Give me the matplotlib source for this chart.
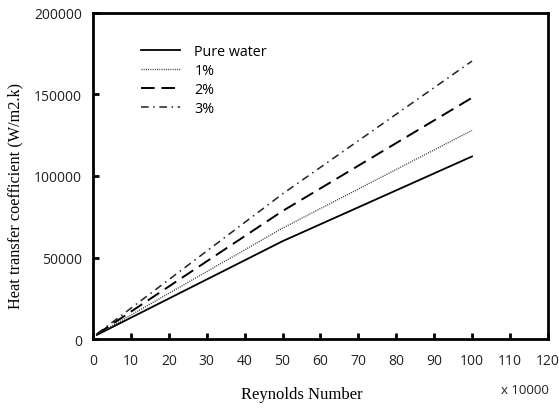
import matplotlib
matplotlib.use("Agg")
import matplotlib.pyplot as plt

reynolds = [1, 50, 100]
pure_water = [2500, 60000, 112000]
pct1 = [2700, 68000, 128000]
pct2 = [2900, 78500, 148000]
pct3 = [3100, 89000, 170500]
labels = ["Pure water", "1%", "2%", "3%"]
xticks = list(range(0, 121, 10))
yticks = [0, 50000, 100000, 150000, 200000]

fig = plt.figure(figsize=(5.59, 4.10), dpi=100)
ax = fig.add_axes([0.1664, 0.1707, 0.8136, 0.7952])

ax.plot(reynolds, pure_water, color="black", lw=1.3, ls="-", label=labels[0])
ax.plot(reynolds, pct1, color="#333333", lw=1.0, ls=(0, (0.7, 0.9)), label=labels[1])
ax.plot(reynolds, pct2, color="black", lw=1.4, ls=(0, (7, 3.5)), label=labels[2])
ax.plot(reynolds, pct3, color="#222222", lw=1.1, ls=(0, (5, 3, 1, 3)), label=labels[3])

ax.set_xlim(0, 120)
ax.set_ylim(0, 200000)
ax.set_xticks(xticks)
ax.set_yticks(yticks)
ax.set_xticklabels([str(t) for t in xticks], fontfamily="Open Sans", fontsize=10, color="#222222")
ax.set_yticklabels([str(t) for t in yticks], fontfamily="Open Sans", fontsize=10, color="#222222")
ax.tick_params(axis="x", direction="in", length=4, width=2, pad=10)
ax.tick_params(axis="y", direction="in", length=4, width=2, pad=8)
for s in ax.spines.values():
    s.set_linewidth(2)

ax.set_xlabel("Reynolds Number", fontfamily="Liberation Serif", fontsize=12)
ax.xaxis.set_label_coords(0.46, -0.145)
ax.set_ylabel("Heat transfer coefficient (W/m2.k)", fontfamily="Liberation Serif", fontsize=11.7)
ax.yaxis.set_label_coords(-0.152, 0.442)
fig.text(0.939, 0.048, "x 10000", fontfamily="Open Sans", fontsize=9.5, ha="center", va="center", color="#222222")

leg = ax.legend(loc="upper left", bbox_to_anchor=(0.078, 0.945), frameon=False,
                prop={"family": "Open Sans", "size": 10.3}, handlelength=2.7,
                handletextpad=1.0, labelspacing=0.28)

fig.savefig("out.png", dpi=100)
